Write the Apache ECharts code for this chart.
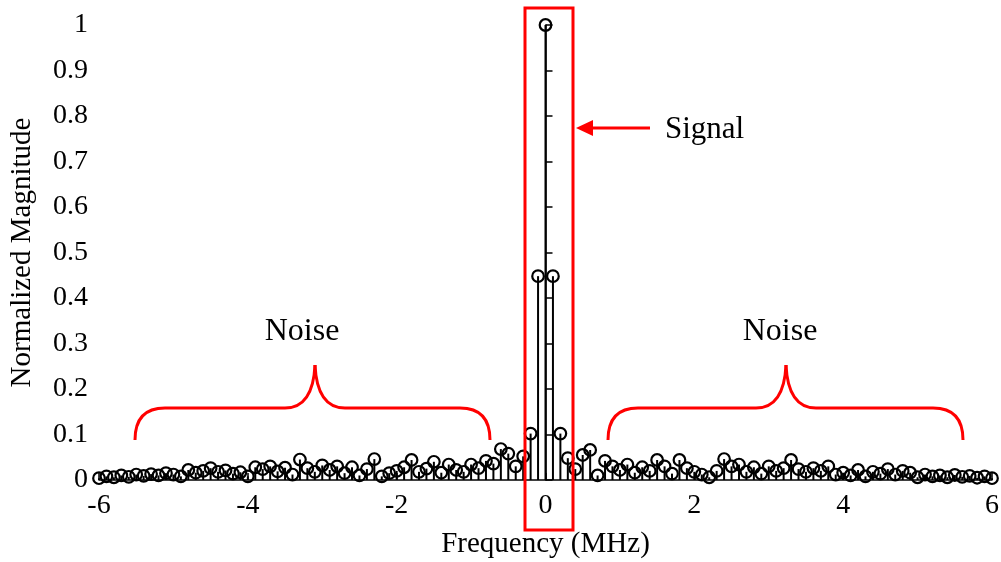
<!DOCTYPE html>
<html>
	<head>
		<meta charset="utf-8">
		<title>Normalized Magnitude</title>
		<script type="text/javascript" src="https://cdn.jsdelivr.net/npm/echarts@6/dist/echarts.min.js"></script>
		<style>
			html, body { margin: 0; padding: 0; background: #fff; }
			#chart { width: 1001px; height: 562px; }
		</style>
	</head>
	<body>
		<div id="chart"></div>
		<script type="text/javascript">
			// frequency bins (MHz)
			var freq = [
				-6.0, -5.9, -5.8, -5.7, -5.6, -5.5, -5.4, -5.3, -5.2, -5.1,
				-5.0, -4.9, -4.8, -4.7, -4.6, -4.5, -4.4, -4.3, -4.2, -4.1,
				-4.0, -3.9, -3.8, -3.7, -3.6, -3.5, -3.4, -3.3, -3.2, -3.1,
				-3.0, -2.9, -2.8, -2.7, -2.6, -2.5, -2.4, -2.3, -2.2, -2.1,
				-2.0, -1.9, -1.8, -1.7, -1.6, -1.5, -1.4, -1.3, -1.2, -1.1,
				-1.0, -0.9, -0.8, -0.7, -0.6, -0.5, -0.4, -0.3, -0.2, -0.1,
				0.0,
				0.1, 0.2, 0.3, 0.4, 0.5, 0.6, 0.7, 0.8, 0.9, 1.0,
				1.1, 1.2, 1.3, 1.4, 1.5, 1.6, 1.7, 1.8, 1.9, 2.0,
				2.1, 2.2, 2.3, 2.4, 2.5, 2.6, 2.7, 2.8, 2.9, 3.0,
				3.1, 3.2, 3.3, 3.4, 3.5, 3.6, 3.7, 3.8, 3.9, 4.0,
				4.1, 4.2, 4.3, 4.4, 4.5, 4.6, 4.7, 4.8, 4.9, 5.0,
				5.1, 5.2, 5.3, 5.4, 5.5, 5.6, 5.7, 5.8, 5.9, 6.0
			];
			// normalized magnitude
			var magnitude = [
				0.004, 0.008, 0.006, 0.010, 0.007, 0.012, 0.009, 0.013, 0.010, 0.015,
				0.012, 0.008, 0.022, 0.016, 0.020, 0.026, 0.018, 0.021, 0.014, 0.017,
				0.008, 0.028, 0.024, 0.030, 0.019, 0.027, 0.012, 0.045, 0.026, 0.018,
				0.032, 0.022, 0.030, 0.015, 0.028, 0.010, 0.024, 0.046, 0.008, 0.015,
				0.020, 0.028, 0.044, 0.018, 0.025, 0.040, 0.016, 0.034, 0.022, 0.018,
				0.034, 0.026, 0.042, 0.036, 0.068, 0.058, 0.030, 0.052, 0.102, 0.448,
				1.0,
				0.448, 0.102, 0.048, 0.024, 0.055, 0.066, 0.010, 0.042, 0.030, 0.022,
				0.034, 0.016, 0.028, 0.020, 0.044, 0.030, 0.014, 0.044, 0.026, 0.018,
				0.012, 0.006, 0.020, 0.046, 0.030, 0.034, 0.018, 0.028, 0.014, 0.030,
				0.020, 0.026, 0.044, 0.024, 0.018, 0.026, 0.020, 0.030, 0.012, 0.016,
				0.010, 0.022, 0.008, 0.018, 0.014, 0.024, 0.012, 0.020, 0.016, 0.006,
				0.012, 0.008, 0.010, 0.006, 0.011, 0.007, 0.009, 0.005, 0.008, 0.004
			];
			var xTicks = [-6, -4, -2, 0, 2, 4, 6];
			var yTicks = [0, 0.1, 0.2, 0.3, 0.4, 0.5, 0.6, 0.7, 0.8, 0.9, 1];

			var stemData = [];
			for(var i = 0; i < freq.length; i++) {
				stemData.push([freq[i], magnitude[i]]);
			}

			var serif = '"Liberation Serif", "DejaVu Serif", serif';
			var red = '#ff0000';

			// a curly brace: x0..x1 ends, cx cusp, yEnd/yMid/yTip heights
			function brace(x0, x1, cx, yEnd, yMid, yTip) {
				var st = { fill: 'none', stroke: red, lineWidth: 3 };
				var r = 30;
				return [
					{ type: 'bezierCurve', shape: { x1: x0, y1: yEnd, cpx1: x0, cpy1: yMid, x2: x0 + r, y2: yMid }, style: st, z: 100 },
					{ type: 'line', shape: { x1: x0 + r, y1: yMid, x2: cx - r, y2: yMid }, style: st, z: 100 },
					{ type: 'bezierCurve', shape: { x1: cx - r, y1: yMid, cpx1: cx - 2, cpy1: yMid, x2: cx, y2: yTip }, style: st, z: 100 },
					{ type: 'bezierCurve', shape: { x1: cx, y1: yTip, cpx1: cx + 2, cpy1: yMid, x2: cx + r, y2: yMid }, style: st, z: 100 },
					{ type: 'line', shape: { x1: cx + r, y1: yMid, x2: x1 - r, y2: yMid }, style: st, z: 100 },
					{ type: 'bezierCurve', shape: { x1: x1 - r, y1: yMid, cpx1: x1, cpy1: yMid, x2: x1, y2: yEnd }, style: st, z: 100 }
				];
			}

			var graphics = [
				// box round the signal
				{
					type: 'rect',
					shape: { x: 525, y: 8, width: 48, height: 522 },
					style: { fill: 'none', stroke: red, lineWidth: 3 },
					z: 100
				},
				// arrow
				{
					type: 'line',
					shape: { x1: 650, y1: 128, x2: 590, y2: 128 },
					style: { stroke: red, lineWidth: 3 },
					z: 100
				},
				{
					type: 'polygon',
					shape: { points: [[576, 128], [593, 120], [593, 136]] },
					style: { fill: red },
					z: 100
				},
				{
					type: 'text',
					style: { text: 'Signal', x: 665, y: 130, fontFamily: serif, fontSize: 31, fill: '#000', verticalAlign: 'middle' },
					z: 100
				},
				{
					type: 'text',
					style: { text: 'Noise', x: 302, y: 332, fontFamily: serif, fontSize: 32, fill: '#000', align: 'center', verticalAlign: 'middle' },
					z: 100
				},
				{
					type: 'text',
					style: { text: 'Noise', x: 780, y: 332, fontFamily: serif, fontSize: 32, fill: '#000', align: 'center', verticalAlign: 'middle' },
					z: 100
				}
			];
			graphics = graphics.concat(brace(135, 490, 315, 440, 408, 365));
			graphics = graphics.concat(brace(608, 963, 786, 440, 408, 365));

			var myChart = echarts.init(document.getElementById('chart'));
			var option = {
				animation: false,
				backgroundColor: '#fff',
				grid: {
					left: 99,
					right: 9,
					top: 25,
					bottom: 82,
					outerBoundsMode: 'none'
				},
				xAxis: {
					type: 'value',
					min: xTicks[0],
					max: xTicks[xTicks.length - 1],
					interval: 2,
					name: 'Frequency (MHz)',
					nameLocation: 'middle',
					nameGap: 50,
					nameTextStyle: { fontFamily: serif, fontSize: 29, color: '#000' },
					axisLine: { onZero: false, lineStyle: { color: '#000', width: 1.5 } },
					axisTick: { inside: true, length: 7, lineStyle: { color: '#000', width: 1.5 } },
					axisLabel: { fontFamily: serif, fontSize: 28, color: '#000', margin: 12 },
					splitLine: { show: false }
				},
				yAxis: {
					type: 'value',
					min: yTicks[0],
					max: yTicks[yTicks.length - 1],
					interval: 0.1,
					name: 'Normalized Magnitude',
					nameLocation: 'middle',
					nameGap: 62,
					nameTextStyle: { fontFamily: serif, fontSize: 29, color: '#000' },
					axisLine: { show: true, lineStyle: { color: '#000', width: 1.5 } },
					axisTick: { show: true, inside: true, length: 7, lineStyle: { color: '#000', width: 1.5 } },
					axisLabel: { fontFamily: serif, fontSize: 28, color: '#000', margin: 11 },
					splitLine: { show: false }
				},
				series: [{
					type: 'custom',
					clip: false,
					data: stemData,
					renderItem: function(params, api) {
						var top = api.coord([api.value(0), api.value(1)]);
						var base = api.coord([api.value(0), 0]);
						return {
							type: 'group',
							children: [{
								type: 'line',
								shape: { x1: base[0], y1: base[1], x2: top[0], y2: top[1] },
								style: { stroke: '#000', lineWidth: 2 }
							}, {
								type: 'circle',
								shape: { cx: top[0], cy: top[1], r: 5.8 },
								style: { fill: 'none', stroke: '#000', lineWidth: 2.2 }
							}]
						};
					}
				}],
				graphic: graphics
			};
			myChart.setOption(option);
		</script>
	</body>
</html>
